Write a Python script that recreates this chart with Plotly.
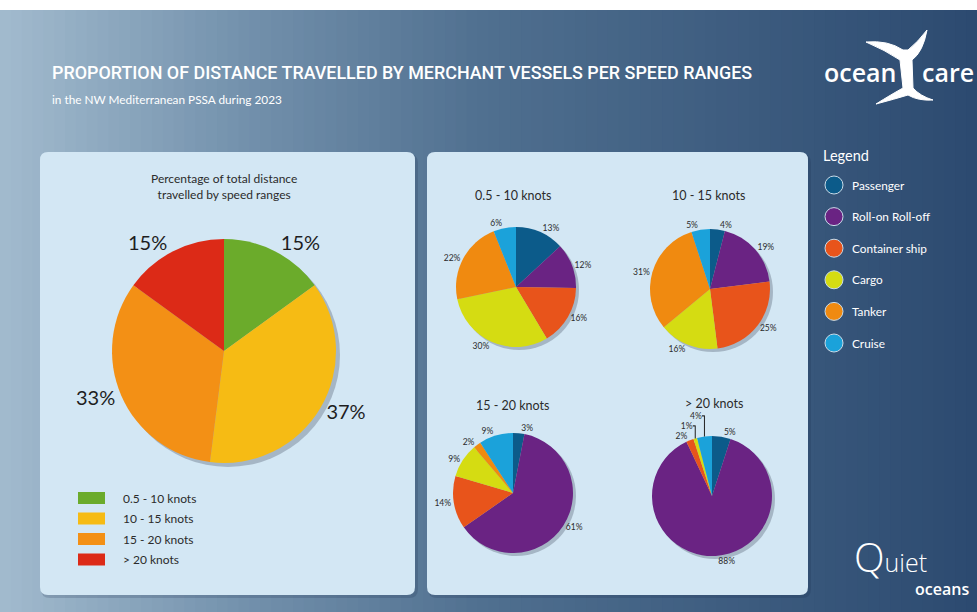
import plotly.graph_objects as go

W, H = 977, 612

# --- data -------------------------------------------------------------
speed_ranges = ["0.5 - 10 knots", "10 - 15 knots", "15 - 20 knots", "> 20 knots"]
speed_share = [15, 37, 33, 15]

vessel_types = ["Passenger", "Roll-on Roll-off", "Container ship", "Cargo", "Tanker", "Cruise"]
share_0_10 = [13, 12, 16, 30, 22, 6]
share_10_15 = [4, 19, 25, 16, 31, 5]
share_15_20 = [3, 61, 14, 9, 2, 9]
share_20_plus = [5, 88, 2, 1, 0, 4]

# --- styles -----------------------------------------------------------
speed_colors = ["#6bab2b", "#f6bb14", "#f39015", "#dc2a17"]
vessel_colors = ["#0c5b8a", "#6a2383", "#e8541b", "#d5dc12", "#f08a10", "#1ba2da"]
FONT = "Lato, Open Sans, sans-serif"
DARK = "#2b2b2b"


def px(x):
    return x / W


def py(y):
    return 1 - y / H


def dom(cx, cy, r):
    return dict(x=[px(cx - r), px(cx + r)], y=[py(cy + r), py(cy - r)])


def pth(cmds):
    # cmds: list of (letter, [(x, y), ...]) in pixels
    out = []
    for c, pts in cmds:
        out.append(c + " " + " ".join(f"{px(x)},{py(y)}" for x, y in pts))
    return " ".join(out) + " Z"


def rounded(x0, y0, x1, y1, r):
    return pth([
        ("M", [(x0 + r, y0)]), ("L", [(x1 - r, y0)]), ("Q", [(x1, y0), (x1, y0 + r)]),
        ("L", [(x1, y1 - r)]), ("Q", [(x1, y1), (x1 - r, y1)]),
        ("L", [(x0 + r, y1)]), ("Q", [(x0, y1), (x0, y1 - r)]),
        ("L", [(x0, y0 + r)]), ("Q", [(x0, y0), (x0 + r, y0)]),
    ])


def lerp_color(stops, t):
    for (t0, c0), (t1, c1) in zip(stops, stops[1:]):
        if t0 <= t <= t1:
            f = (t - t0) / (t1 - t0)
            a = [int(c0[i:i + 2], 16) for i in (1, 3, 5)]
            b = [int(c1[i:i + 2], 16) for i in (1, 3, 5)]
            return "rgb(%d,%d,%d)" % tuple(round(a[k] + (b[k] - a[k]) * f) for k in range(3))
    return stops[-1][1]


shapes = []
# background gradient
grad = [(0, "#a2bbce"), (0.25, "#7391ac"), (0.5, "#4f6f8f"), (1.0, "#2c4a70")]
n = 90
for i in range(n):
    shapes.append(dict(type="rect", xref="paper", yref="paper", layer="below",
                       x0=i / n, x1=(i + 1) / n + 0.002, y0=0, y1=py(10),
                       fillcolor=lerp_color(grad, (i + 0.5) / n), line_width=0))

# panels with soft shadow
for (x0, x1) in [(40, 415), (427, 808)]:
    shapes.append(dict(type="path", xref="paper", yref="paper", layer="below",
                       path=rounded(x0 + 1, 154, x1 + 3, 598, 9),
                       fillcolor="rgba(20,40,70,0.18)", line_width=0))
    shapes.append(dict(type="path", xref="paper", yref="paper", layer="below",
                       path=rounded(x0, 152, x1, 595, 8),
                       fillcolor="#d3e7f4", line_width=0))

# pie shadows
pies = [(224, 351, 112), (516, 287, 60), (710, 289, 60), (513, 493, 60), (712, 496, 60)]
for cx, cy, r in pies:
    d = 3 if r < 100 else 4
    shapes.append(dict(type="circle", xref="paper", yref="paper", layer="below",
                       x0=px(cx - r + d), x1=px(cx + r + d), y0=py(cy + r + d), y1=py(cy - r + d),
                       fillcolor="rgba(60,70,90,0.3)", line_width=0))

annotations = []

# left legend (speed ranges)
for i, (lab, col) in enumerate(zip(speed_ranges, speed_colors)):
    yc = 498 + i * 20.5
    shapes.append(dict(type="rect", xref="paper", yref="paper",
                       x0=px(78), x1=px(105), y0=py(yc + 6), y1=py(yc - 6),
                       fillcolor=col, line_width=0))
    annotations.append(dict(x=px(121), y=py(yc), xref="paper", yref="paper", text=lab,
                            showarrow=False, xanchor="left", yanchor="middle",
                            font=dict(family=FONT, size=12, color=DARK)))

# right legend (vessel types)
annotations.append(dict(x=px(821), y=py(155), xref="paper", yref="paper", text="Legend",
                        showarrow=False, xanchor="left", yanchor="middle",
                        font=dict(family=FONT, size=14.5, color="white")))
for i, (lab, col) in enumerate(zip(vessel_types, vessel_colors)):
    yc = 185 + i * 31.6
    shapes.append(dict(type="circle", xref="paper", yref="paper",
                       x0=px(825), x1=px(843), y0=py(yc + 9), y1=py(yc - 9),
                       fillcolor=col, line=dict(color="#c9dbe8", width=1)))
    annotations.append(dict(x=px(850), y=py(yc), xref="paper", yref="paper", text=lab,
                            showarrow=False, xanchor="left", yanchor="middle",
                            font=dict(family=FONT, size=11.8, color="white")))

# titles
annotations += [
    dict(x=px(50), y=py(72), xref="paper", yref="paper",
         text="PROPORTION OF DISTANCE TRAVELLED BY MERCHANT VESSELS PER SPEED RANGES",
         showarrow=False, xanchor="left", yanchor="middle",
         font=dict(family="Roboto, sans-serif", size=17.9, weight=500, color="white")),
    dict(x=px(50), y=py(100), xref="paper", yref="paper",
         text="in the NW Mediterranean PSSA during 2023",
         showarrow=False, xanchor="left", yanchor="middle",
         font=dict(family=FONT, size=11.8, color="white")),
    dict(x=px(224), y=py(186), xref="paper", yref="paper",
         text="Percentage of total distance<br>travelled by speed ranges",
         showarrow=False, xanchor="center", yanchor="middle",
         font=dict(family=FONT, size=12, color=DARK)),
]
for (cx, cy), t in zip([(513, 196), (708, 196), (512, 405), (714, 403)], speed_ranges):
    annotations.append(dict(x=px(cx), y=py(cy), xref="paper", yref="paper", text=t,
                            showarrow=False, xanchor="center", yanchor="middle",
                            font=dict(family=FONT, size=12.5, color=DARK)))

# logos
annotations += [
    dict(x=px(898), y=py(72), xref="paper", yref="paper", text="ocean",
         showarrow=False, xanchor="right", yanchor="middle",
         font=dict(family="Open Sans, sans-serif", size=25, weight=600, color="white")),
    dict(x=px(920), y=py(72), xref="paper", yref="paper", text="care",
         showarrow=False, xanchor="left", yanchor="middle",
         font=dict(family="Open Sans, sans-serif", size=25, weight=600, color="white")),
    dict(x=px(852), y=py(556), xref="paper", yref="paper",
         text="<span style='font-size:40px'>Q</span>uiet",
         showarrow=False, xanchor="left", yanchor="middle",
         font=dict(family="Open Sans, sans-serif", size=25, weight=300, color="white")),
    dict(x=px(971), y=py(589), xref="paper", yref="paper", text="oceans",
         showarrow=False, xanchor="right", yanchor="middle",
         font=dict(family="Open Sans, sans-serif", size=16, weight=600, color="white")),
]
# whale tail
tail = pth([
    ("M", [(866, 42)]), ("Q", [(888, 40), (903, 50)]), ("L", [(908, 50)]),
    ("Q", [(918, 42), (927, 30)]), ("Q", [(923, 52), (912, 60)]), ("L", [(913, 88)]),
    ("Q", [(920, 96), (933, 100)]), ("Q", [(918, 101), (908, 95)]),
    ("Q", [(895, 99), (876, 104)]), ("Q", [(892, 94), (903, 88)]), ("L", [(900, 60)]),
    ("Q", [(885, 50), (866, 42)]),
])
shapes.append(dict(type="path", xref="paper", yref="paper", path=tail,
                   fillcolor="white", line=dict(color="white", width=1)))

fig = go.Figure()
fig.add_trace(go.Pie(
    labels=speed_ranges, values=speed_share, sort=False, direction="clockwise",
    marker=dict(colors=speed_colors, line=dict(width=0)),
    text=[f"{v}%" for v in speed_share], texttemplate="%{text}", textposition="outside",
    textfont=dict(family=FONT, size=20, color="#1e1e1e"),
    domain=dom(224, 351, 112), hoverinfo="label+value", showlegend=False,
))
for vals, (cx, cy, r) in zip([share_0_10, share_10_15, share_15_20, share_20_plus], pies[1:]):
    fig.add_trace(go.Pie(
        labels=vessel_types, values=vals, sort=False, direction="clockwise",
        marker=dict(colors=vessel_colors, line=dict(width=0)),
        text=[f"{v}%" if v else "" for v in vals], texttemplate="%{text}",
        textposition="outside",
        textfont=dict(family=FONT, size=8.5, color=DARK),
        domain=dom(cx, cy, r), hoverinfo="label+value", showlegend=False,
    ))

fig.update_layout(
    width=W, height=H, autosize=False,
    margin=dict(l=0, r=0, t=0, b=0),
    paper_bgcolor="white", plot_bgcolor="white",
    shapes=shapes, annotations=annotations,
    showlegend=False,
)
fig.write_html("out.html", config={"displayModeBar": False},
               post_script="document.body.style.margin='0';")
